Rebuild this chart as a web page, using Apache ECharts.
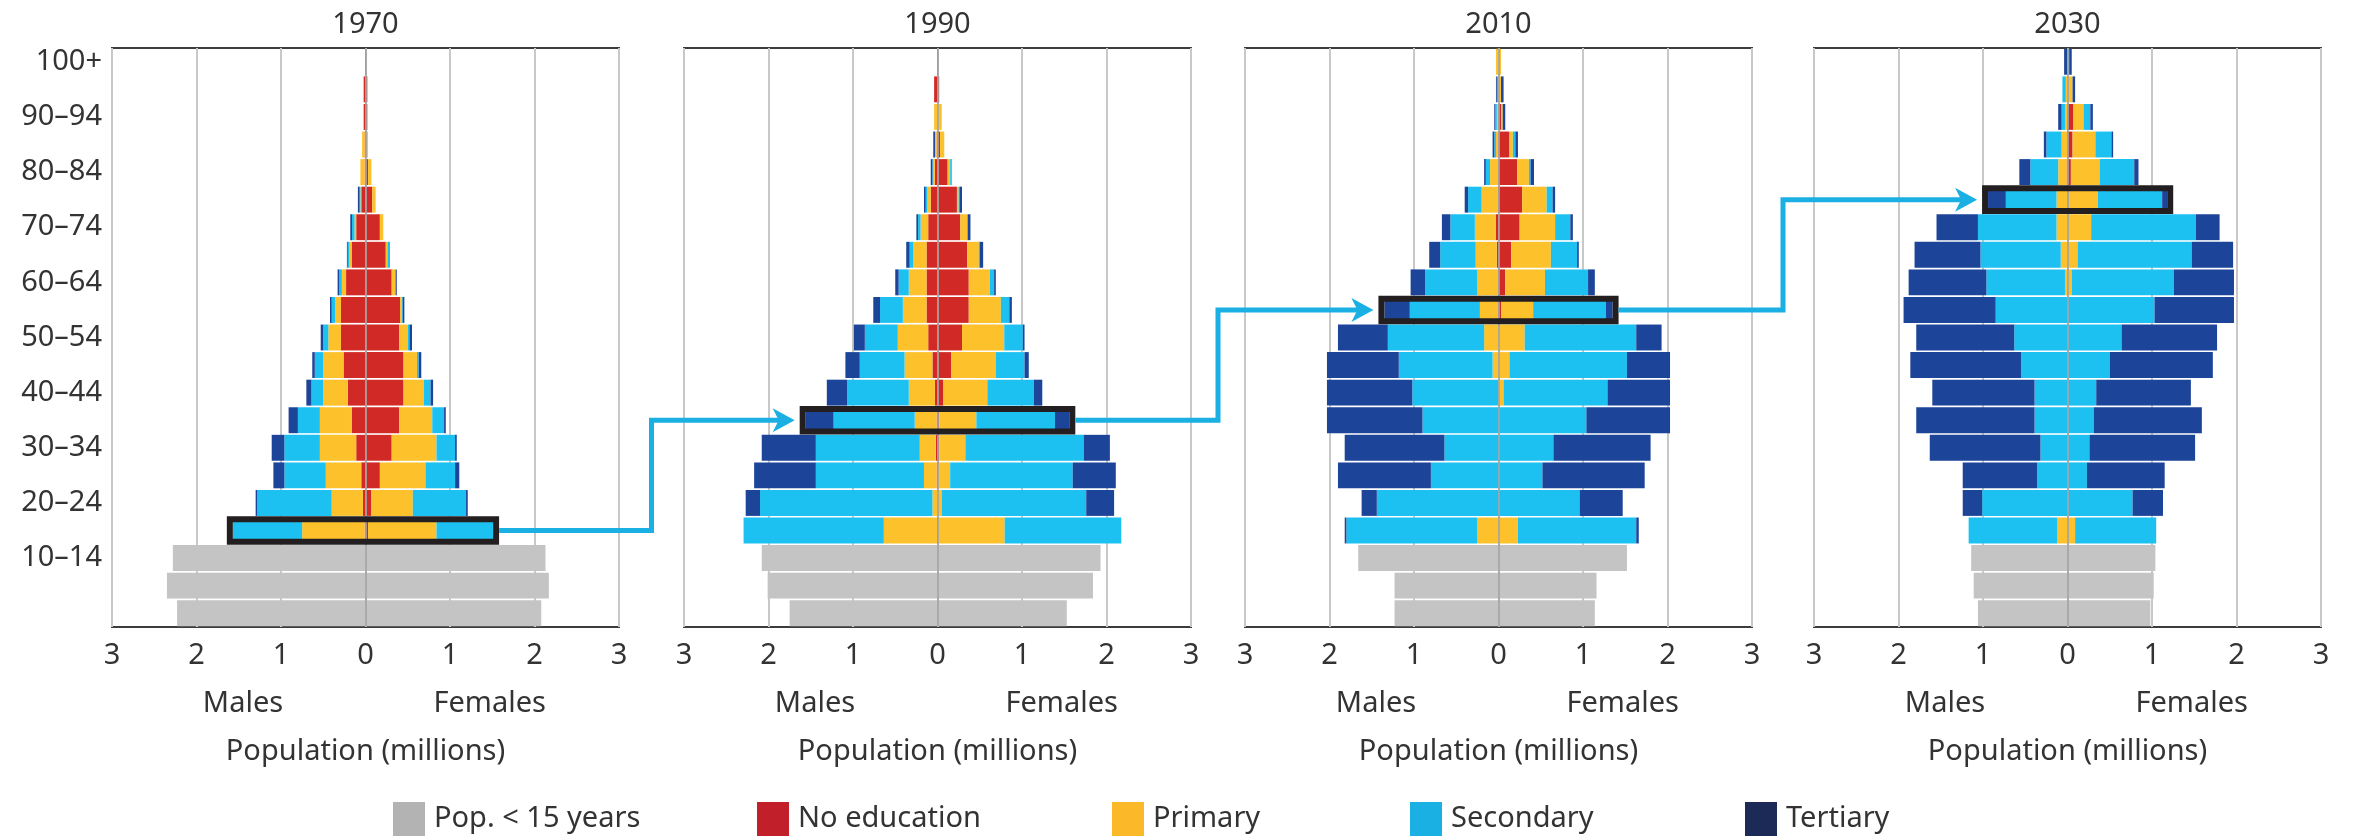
<!DOCTYPE html>
<html><head><meta charset="utf-8">
<script src="https://cdn.jsdelivr.net/npm/echarts@6/dist/echarts.min.js"></script>
<style>html,body{margin:0;padding:0;background:#fff}#c{width:2354px;height:840px}</style>
</head><body><div id="c"></div>
<script>
// ---------- DATA ----------
const ages = ['0–4','5–9','10–14','15–19','20–24','25–29','30–34','35–39','40–44','45–49','50–54','55–59','60–64','65–69','70–74','75–79','80–84','85–89','90–94','95–99','100+'];
const years = ['1970','1990','2010','2030'];
const xTickValues = [-3,-2,-1,0,1,2,3];
const eduNames = ['No education','Primary','Secondary','Tertiary'];
const under15Name = 'Pop. < 15 years';
// highlighted cohort per panel
const highlightAge = ['15–19','35–39','55–59','75–79'];

// Under 15 (0–4, 5–9, 10–14), millions
const under15M = [[2.23,2.35,2.28],[1.75,2.01,2.08],[1.23,1.23,1.66],[1.06,1.11,1.14]];
const under15F = [[2.08,2.17,2.13],[1.53,1.84,1.93],[1.14,1.16,1.52],[0.98,1.02,1.04]];

// Education segments, ages 15–19 ... 100+ (18 groups), millions
// 1970
const noEdM70 = [.01,.03,.05,.11,.16,.21,.26,.29,.29,.23,.16,.11,.05,.01,.01,.02,.02,.005];
const prM70   = [.74,.37,.42,.43,.38,.29,.24,.15,.07,.05,.03,.02,.01,.05,.03,.01,.01,0];
const seM70   = [.82,.88,.49,.42,.26,.14,.10,.06,.04,.03,.02,.03,.01,0,0,0,0,0];
const teM70   = [0,.02,.13,.15,.11,.06,.03,.03,.02,.02,.01,.02,.02,0,0,0,0,0];
const noEdF70 = [.03,.07,.17,.31,.40,.45,.45,.40,.41,.31,.24,.17,.08,.03,.01,.02,.02,.005];
const prF70   = [.81,.49,.54,.53,.39,.24,.16,.10,.02,.04,.02,.04,.04,.04,.02,.01,.01,0];
const seF70   = [.67,.63,.35,.22,.14,.08,.02,.02,.01,.01,.03,0,0,0,0,0,0,0];
const teF70   = [0,.02,.05,.02,.02,.03,.03,.03,.02,.01,0,0,0,0,0,0,0,0];
// 1990
const noEdM90 = [.005,0,.01,.02,.01,.03,.06,.11,.13,.13,.13,.11,.08,.03,.01,0,.04,.005];
const prM90   = [.63,.06,.15,.19,.26,.31,.33,.36,.28,.21,.16,.09,.04,.02,.02,.04,0,0];
const seM90   = [1.66,2.04,1.28,1.23,.96,.73,.53,.39,.27,.12,.04,.03,.02,.01,0,0,0,0];
const teM90   = [0,.17,.73,.64,.33,.24,.17,.13,.08,.04,.04,.02,.02,.02,.02,0,0,0];
const noEdF90 = [.005,0,.01,.02,.02,.07,.16,.29,.37,.37,.35,.27,.23,.12,.03,0,.02,.005];
const prF90   = [.79,.05,.14,.31,.44,.52,.53,.50,.38,.25,.14,.08,.02,.03,.05,.05,0,0];
const seF90   = [1.38,1.71,1.45,1.40,.93,.55,.34,.22,.10,.05,.01,.01,.01,.02,0,0,0,0];
const teF90   = [0,.33,.51,.31,.17,.10,.05,.02,.03,.02,.04,.03,.03,0,0,0,0,0];
// 2010
const noEdM10 = [0,0,0,0,0,0,0,0,0,.01,.02,.03,.01,.01,0,0,0,0];
const prM10   = [.25,0,0,0,0,0,.07,.17,.22,.24,.25,.25,.19,.09,.03,.02,0,.03];
const seM10   = [1.55,1.44,.80,.64,.90,1.02,1.11,1.14,.83,.62,.42,.29,.16,.05,.02,.02,.02,0];
const teM10   = [.02,.18,1.10,1.18,1.13,1.01,.85,.59,.30,.17,.13,.10,.04,.02,.02,.01,.01,0];
const noEdF10 = [0,0,0,0,0,0,0,0,.03,.08,.15,.25,.28,.22,.13,.03,0,0];
const prF10   = [.23,0,0,0,0,.06,.13,.31,.38,.47,.47,.42,.29,.14,.04,.02,.03,.03];
const seF10   = [1.40,.96,.52,.65,1.04,1.23,1.39,1.32,.86,.51,.31,.18,.07,.02,.03,0,0,0];
const teF10   = [.03,.51,1.21,1.15,.99,.74,.51,.30,.08,.08,.02,.03,.03,.04,.03,.03,.03,0];
// 2030
const noEdM30 = [0,0,0,0,0,0,0,0,0,0,0,0,0,.01,0,0,0,0];
const prM30   = [.12,0,0,0,0,0,0,0,0,.03,.08,.13,.13,.10,.07,.03,.02,0];
const seM30   = [1.05,1.01,.36,.32,.39,.39,.55,.63,.85,.93,.95,.93,.60,.33,.18,.04,.04,0];
const teM30   = [0,.23,.88,1.31,1.40,1.21,1.31,1.16,1.09,.92,.78,.49,.21,.13,.03,.04,0,.04];
const noEdF30 = [0,0,0,0,0,0,0,0,0,0,0,0,.01,.04,.06,.07,0,0];
const prF30   = [.09,0,0,0,0,0,0,0,0,.05,.12,.28,.35,.34,.27,.12,.06,0];
const seF30   = [.96,.77,.23,.26,.31,.34,.50,.64,1.03,1.21,1.35,1.24,.76,.41,.19,.08,0,.02];
const teF30   = [0,.36,.92,1.25,1.28,1.12,1.22,1.13,.94,.71,.49,.28,.06,.05,.02,.03,.03,.03];

const males   = [[noEdM70,prM70,seM70,teM70],[noEdM90,prM90,seM90,teM90],[noEdM10,prM10,seM10,teM10],[noEdM30,prM30,seM30,teM30]];
const females = [[noEdF70,prF70,seF70,teF70],[noEdF90,prF90,seF90,teF90],[noEdF10,prF10,seF10,teF10],[noEdF30,prF30,seF30,teF30]];

// ---------- STYLE ----------
const FONT = 'Noto Sans';
const TXT = '#333333';
const barColors = ['#d12a26','#fdc22b','#1dc1f1','#1c4499'];
const legendColors = ['#c1202a','#fbb829','#1ab0e3','#1c2a58'];
const greyBar = '#c3c4c3', greyLegend = '#b3b3b3';
const lineBlue = '#1bb0e3';
const gridLefts = [112, 684, 1245, 1814];
const gridW = 507, gridTop = 48, gridH = 579;

const pad3 = a => [null,null,null].concat(a);
const padGrey = a => a.concat(new Array(18).fill(null));
const neg = a => a.map(v => v == null ? null : -v);

const grids = [], xAxes = [], yAxes = [], series = [];
years.forEach((yr, i) => {
  grids.push({left: gridLefts[i], top: gridTop, width: gridW, height: gridH, show: true,
    borderColor: '#3c3c3c', borderWidth: 2, backgroundColor: 'transparent', containLabel: false});
  xAxes.push({type: 'value', gridIndex: i, min: -3, max: 3, interval: 1,
    axisLine: {show: false}, axisTick: {show: false},
    splitLine: {show: true, lineStyle: {color: '#c8c8c8', width: 2}},
    axisLabel: {fontFamily: FONT, fontSize: 29, color: TXT, margin: 14,
      formatter: v => xTickValues.includes(v) ? String(Math.abs(v)) : ''},
    name: 'Population (millions)', nameLocation: 'middle', nameGap: 110,
    nameTextStyle: {fontFamily: FONT, fontSize: 29, color: TXT}});
  yAxes.push({type: 'category', gridIndex: i, data: ages,
    axisLine: {show: false}, axisTick: {show: false}, splitLine: {show: false},
    axisLabel: {show: i === 0, fontFamily: FONT, fontSize: 29, color: TXT, margin: 10,
      interval: (idx) => idx > 0 && idx % 2 === 0}});
  const common = {type: 'bar', xAxisIndex: i, yAxisIndex: i, stack: 'p' + i,
    barCategoryGap: '6%', silent: true, animation: false};
  for (let k = 0; k < 4; k++) {
    series.push(Object.assign({}, common, {name: eduNames[k], itemStyle: {color: barColors[k]},
      data: neg(pad3(males[i][k]))}));
  }
  for (let k = 0; k < 4; k++) {
    series.push(Object.assign({}, common, {name: eduNames[k], itemStyle: {color: barColors[k]},
      data: pad3(females[i][k])}));
  }
  series.push(Object.assign({}, common, {name: under15Name, itemStyle: {color: greyBar},
    data: neg(padGrey(under15M[i]))}));
  series.push(Object.assign({}, common, {name: under15Name, itemStyle: {color: greyBar},
    data: padGrey(under15F[i]),
    markLine: {silent: true, symbol: ['none','none'], label: {show: false},
      lineStyle: {color: 'rgba(165,165,165,0.85)', width: 2, type: 'solid'},
      data: [{xAxis: 0}]}}));
});

// totals of highlighted cohort (from data)
const sumAt = (arrs, j) => arrs.reduce((s, a) => s + a[j], 0);
const hlIdx = highlightAge.map(a => ages.indexOf(a));
const hlM = hlIdx.map((ix, i) => sumAt(males[i], ix - 3));
const hlF = hlIdx.map((ix, i) => sumAt(females[i], ix - 3));
const BOXPAD = 3, BOXLW = 6;
years.forEach((yr, i) => {
  series.push({type: 'custom', xAxisIndex: i, yAxisIndex: i, silent: true, animation: false, z: 6,
    encode: {x: [0, 1], y: 2},
    data: [[-hlM[i], hlF[i], hlIdx[i]]],
    renderItem: (params, api) => {
      const lo = api.coord([api.value(0), api.value(2)]);
      const hi = api.coord([api.value(1), api.value(2)]);
      const h = api.size([0, 1])[1];
      return {type: 'rect',
        shape: {x: lo[0] - BOXPAD, y: lo[1] - h / 2 + 2.5, width: hi[0] - lo[0] + 2 * BOXPAD, height: h - 5},
        style: {fill: 'none', stroke: '#231f20', lineWidth: BOXLW}};
    }});
});

const legendLefts = [393, 757, 1112, 1410, 1745];
const legendItems = [under15Name].concat(eduNames);
const legendCols = [greyLegend].concat(legendColors);
const legends = legendItems.map((n, j) => ({
  left: legendLefts[j], top: 802, padding: 0, selectedMode: false,
  itemWidth: 32, itemHeight: 34, icon: 'rect',
  textStyle: {fontFamily: FONT, fontSize: 29, color: TXT, padding: [0, 0, 0, 4]},
  data: [{name: n, icon: 'rect', itemStyle: {color: legendCols[j], borderWidth: 0}}]
}));

const option = {
  backgroundColor: '#ffffff',
  animation: false,
  textStyle: {fontFamily: FONT},
  grid: grids, xAxis: xAxes, yAxis: yAxes, series: series, legend: legends
};

const chart = echarts.init(document.getElementById('c'), null, {renderer: 'canvas'});
chart.setOption(option);

// annotations positioned through the chart's own scales
const gfx = [];
years.forEach((yr, i) => {
  const c = chart.convertToPixel({gridIndex: i}, [0, 0]);
  gfx.push({type: 'text', x: c[0], y: 25, style: {text: yr, fontFamily: FONT, fontSize: 29, fill: TXT, align: 'center', verticalAlign: 'middle'}});
  const pm = chart.convertToPixel({gridIndex: i}, [-1.45, 0]);
  const pf = chart.convertToPixel({gridIndex: i}, [1.47, 0]);
  gfx.push({type: 'text', x: pm[0], y: 704, style: {text: 'Males', fontFamily: FONT, fontSize: 29, fill: TXT, align: 'center', verticalAlign: 'middle'}});
  gfx.push({type: 'text', x: pf[0], y: 704, style: {text: 'Females', fontFamily: FONT, fontSize: 29, fill: TXT, align: 'center', verticalAlign: 'middle'}});
});
for (let i = 0; i < 3; i++) {
  const a = chart.convertToPixel({gridIndex: i}, [hlF[i], hlIdx[i]]);
  const b = chart.convertToPixel({gridIndex: i + 1}, [-hlM[i + 1], hlIdx[i + 1]]);
  const r = chart.convertToPixel({gridIndex: i}, [3, 0])[0];
  const l = chart.convertToPixel({gridIndex: i + 1}, [-3, 0])[0];
  const mx = (r + l) / 2;
  const sx = a[0] + BOXPAD + BOXLW / 2, sy = a[1];
  const tip = b[0] - BOXPAD - BOXLW / 2 - 5, ey = b[1];
  gfx.push({type: 'polyline', z: 100, shape: {points: [[sx, sy], [mx, sy], [mx, ey], [tip - 14, ey]]},
    style: {stroke: lineBlue, lineWidth: 5, fill: null, lineJoin: 'miter'}});
  gfx.push({type: 'polygon', z: 100, shape: {points: [[tip, ey], [tip - 22, ey - 12], [tip - 16, ey], [tip - 22, ey + 12]]},
    style: {fill: lineBlue}});
}
chart.setOption({graphic: gfx});
</script>
</body></html>
